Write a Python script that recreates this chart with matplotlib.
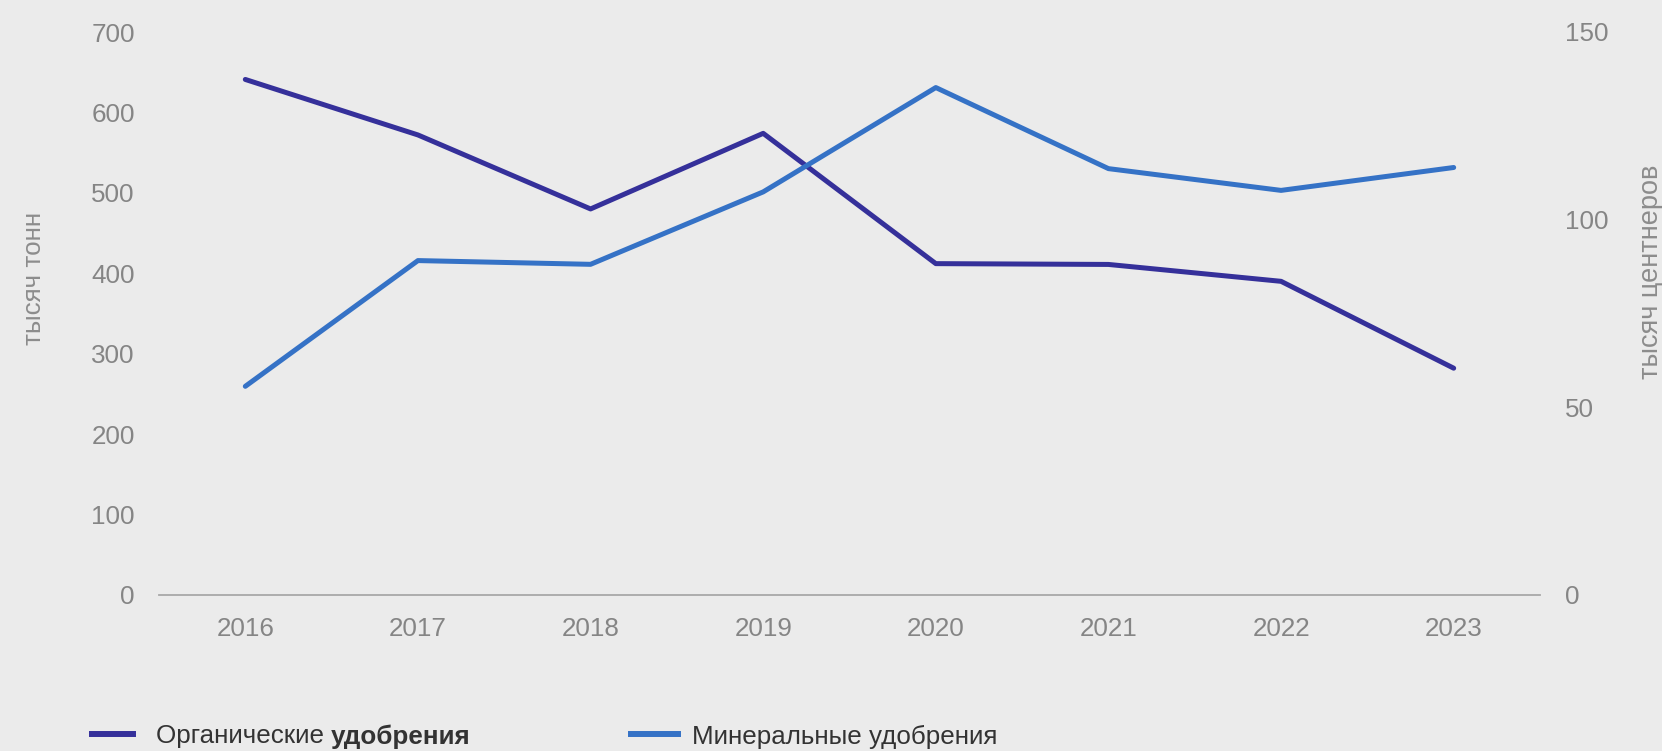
import matplotlib
matplotlib.use("Agg")
import matplotlib.pyplot as plt
from matplotlib.lines import Line2D

years = ["2016", "2017", "2018", "2019", "2020", "2021", "2022", "2023"]
organic = [641, 572, 480, 574, 412, 411, 390, 282]          # тысяч тонн (left axis)
mineral = [55.6, 89.1, 88.1, 107.4, 135.2, 113.6, 107.8, 113.9]  # тысяч центнеров (right axis)
left_ticks = [0, 100, 200, 300, 400, 500, 600, 700]
right_ticks = [0, 50, 100, 150]

BG = "#EBEBEB"
C_ORG = "#35309A"
C_MIN = "#3572C6"
TICK_C = "#858585"
FS = 18.7

plt.rcParams["font.family"] = ["Liberation Sans", "DejaVu Sans"]

W, H = 1662, 751
fig = plt.figure(figsize=(W / 100, H / 100), dpi=100, facecolor=BG)
ax = fig.add_axes([159 / W, 1 - 595 / H, (1540 - 159) / W, (595 - 32) / H])
ax.set_facecolor(BG)
ax2 = ax.twinx()

x = list(range(len(years)))
ax.plot(x, organic, color=C_ORG, lw=3.6, solid_capstyle="round", solid_joinstyle="round", zorder=3)
ax2.plot(x, mineral, color=C_MIN, lw=3.6, solid_capstyle="round", solid_joinstyle="round", zorder=3)

ax.set_xlim(-0.5, len(years) - 0.5)
ax.set_ylim(0, 700)
ax2.set_ylim(0, 150)
ax.set_xticks(x)
ax.set_xticklabels(years)
ax.set_yticks(left_ticks)
ax2.set_yticks(right_ticks)

for s in ["top", "right", "left"]:
    ax.spines[s].set_visible(False)
    ax2.spines[s].set_visible(False)
ax2.spines["bottom"].set_visible(False)
ax.spines["bottom"].set_color("#A8A8A8")
ax.spines["bottom"].set_linewidth(1.3)

ax.tick_params(axis="x", length=0, pad=15.5, labelsize=FS, labelcolor=TICK_C)
ax.tick_params(axis="y", length=0, pad=17.5, labelsize=FS, labelcolor=TICK_C)
ax2.tick_params(axis="y", length=0, pad=18, labelsize=FS, labelcolor=TICK_C)

fig.text(34 / W, 1 - 278 / H, "тысяч тонн", rotation=90, ha="center", va="center",
         fontsize=18.7, color="#8C8C8C")
fig.text(1651 / W, 1 - 272 / H, "тысяч центнеров", rotation=90, ha="center", va="center",
         fontsize=19.5, color="#8C8C8C")

# Legend
ly = 1 - 734 / H
fig.add_artist(Line2D([92 / W, 133 / W], [ly, ly], color=C_ORG, lw=4.3, transform=fig.transFigure))
fig.add_artist(Line2D([631 / W, 678 / W], [ly, ly], color=C_MIN, lw=4.3, transform=fig.transFigure))
t1 = fig.text(156 / W, ly, "Органические ", ha="left", va="center_baseline", fontsize=FS, color="#333333")
fig.canvas.draw()
r = fig.canvas.get_renderer()
bb = t1.get_window_extent(renderer=r)
fig.text(bb.x1 / W, ly, "удобрения", ha="left", va="center_baseline", fontsize=FS,
         fontweight="bold", color="#333333")
fig.text(692 / W, ly, "Минеральные удобрения", ha="left", va="center_baseline", fontsize=FS, color="#333333")

fig.savefig("out.png", dpi=100, facecolor=BG)
